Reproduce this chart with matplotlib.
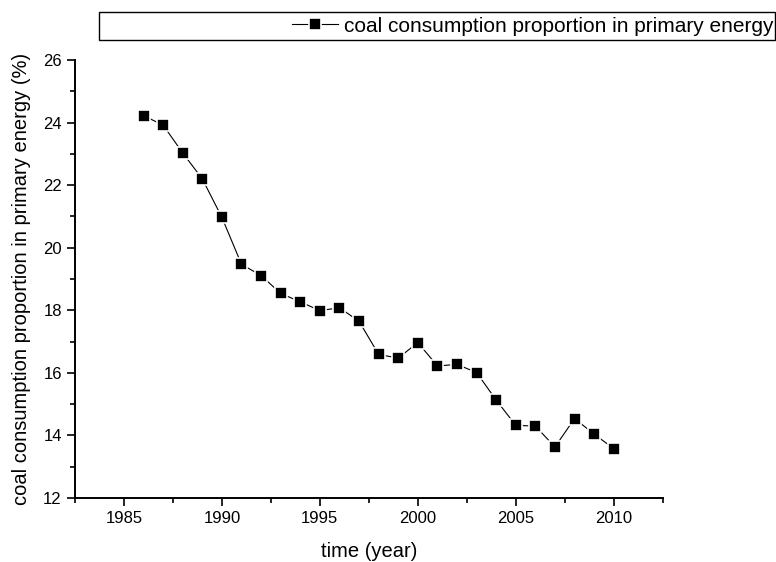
# Kohleanteil am Primärenergieverbrauch
import matplotlib.pyplot as plt
from matplotlib.patches import Rectangle

# Daten
jahre = [1986, 1987, 1988, 1989, 1990, 1991, 1992, 1993, 1994, 1995, 1996, 1997,
         1998, 1999, 2000, 2001, 2002, 2003, 2004, 2005, 2006, 2007, 2008, 2009, 2010]
anteil = [24.22, 23.92, 23.03, 22.20, 20.97, 19.47, 19.11, 18.54, 18.27, 17.99, 18.08, 17.65,
          16.59, 16.47, 16.97, 16.22, 16.27, 16.01, 15.13, 14.32, 14.30, 13.63, 14.54, 14.04, 13.58]
x_ticks = [1985, 1990, 1995, 2000, 2005, 2010]
y_ticks = [12, 14, 16, 18, 20, 22, 24, 26]

plt.rcParams["font.family"] = ["Liberation Sans", "DejaVu Sans"]

fig = plt.figure(figsize=(7.76, 5.62), dpi=100)
ax = fig.add_axes([0.0966, 0.1139, 0.7574, 0.7793])

ax.plot(jahre, anteil, color="black", linewidth=0.8, marker="s",
        markersize=8.5, markerfacecolor="black", markeredgecolor="white",
        markeredgewidth=1.2, label="coal consumption proportion in primary energy")

ax.set_xlim(1982.5, 2012.5)
ax.set_ylim(12, 26)
ax.set_xticks(x_ticks)
ax.set_yticks(y_ticks)
ax.set_xticks([1982.5, 1987.5, 1992.5, 1997.5, 2002.5, 2007.5, 2012.5], minor=True)
ax.set_yticks([13, 15, 17, 19, 21, 23, 25], minor=True)
ax.tick_params(which="major", direction="out", length=6, width=1.2, labelsize=12, pad=3.5)
ax.tick_params(which="minor", direction="out", length=3.5, width=1.2)

ax.spines["top"].set_visible(False)
ax.spines["right"].set_visible(False)
ax.spines["left"].set_linewidth(1.4)
ax.spines["bottom"].set_linewidth(1.4)

ax.set_xlabel("time (year)", fontsize=14.5)
ax.set_ylabel("coal consumption proportion in primary energy (%)", fontsize=14.5)
ax.xaxis.set_label_coords(0.5, -(552 - 498) / 438, transform=ax.transAxes)
ax.yaxis.set_label_coords(-(75 - 22) / 588, 0.5, transform=ax.transAxes)
ax.xaxis.label.set_va("center")
ax.yaxis.label.set_va("center")

# Legendenrahmen wie im Original
fig.patches.append(Rectangle((99 / 776, 1 - 40 / 562), 676 / 776, 28 / 562,
                             transform=fig.transFigure, fill=False,
                             edgecolor="black", linewidth=1.0))
ax.legend(loc="center right", bbox_to_anchor=(1 - 2 / 776, 1 - 26 / 562),
          bbox_transform=fig.transFigure, frameon=False, fontsize=15,
          handlelength=2.2, handletextpad=0.3, borderaxespad=0, borderpad=0,
          markerscale=1.0)

plt.savefig("out.png", dpi=100)
